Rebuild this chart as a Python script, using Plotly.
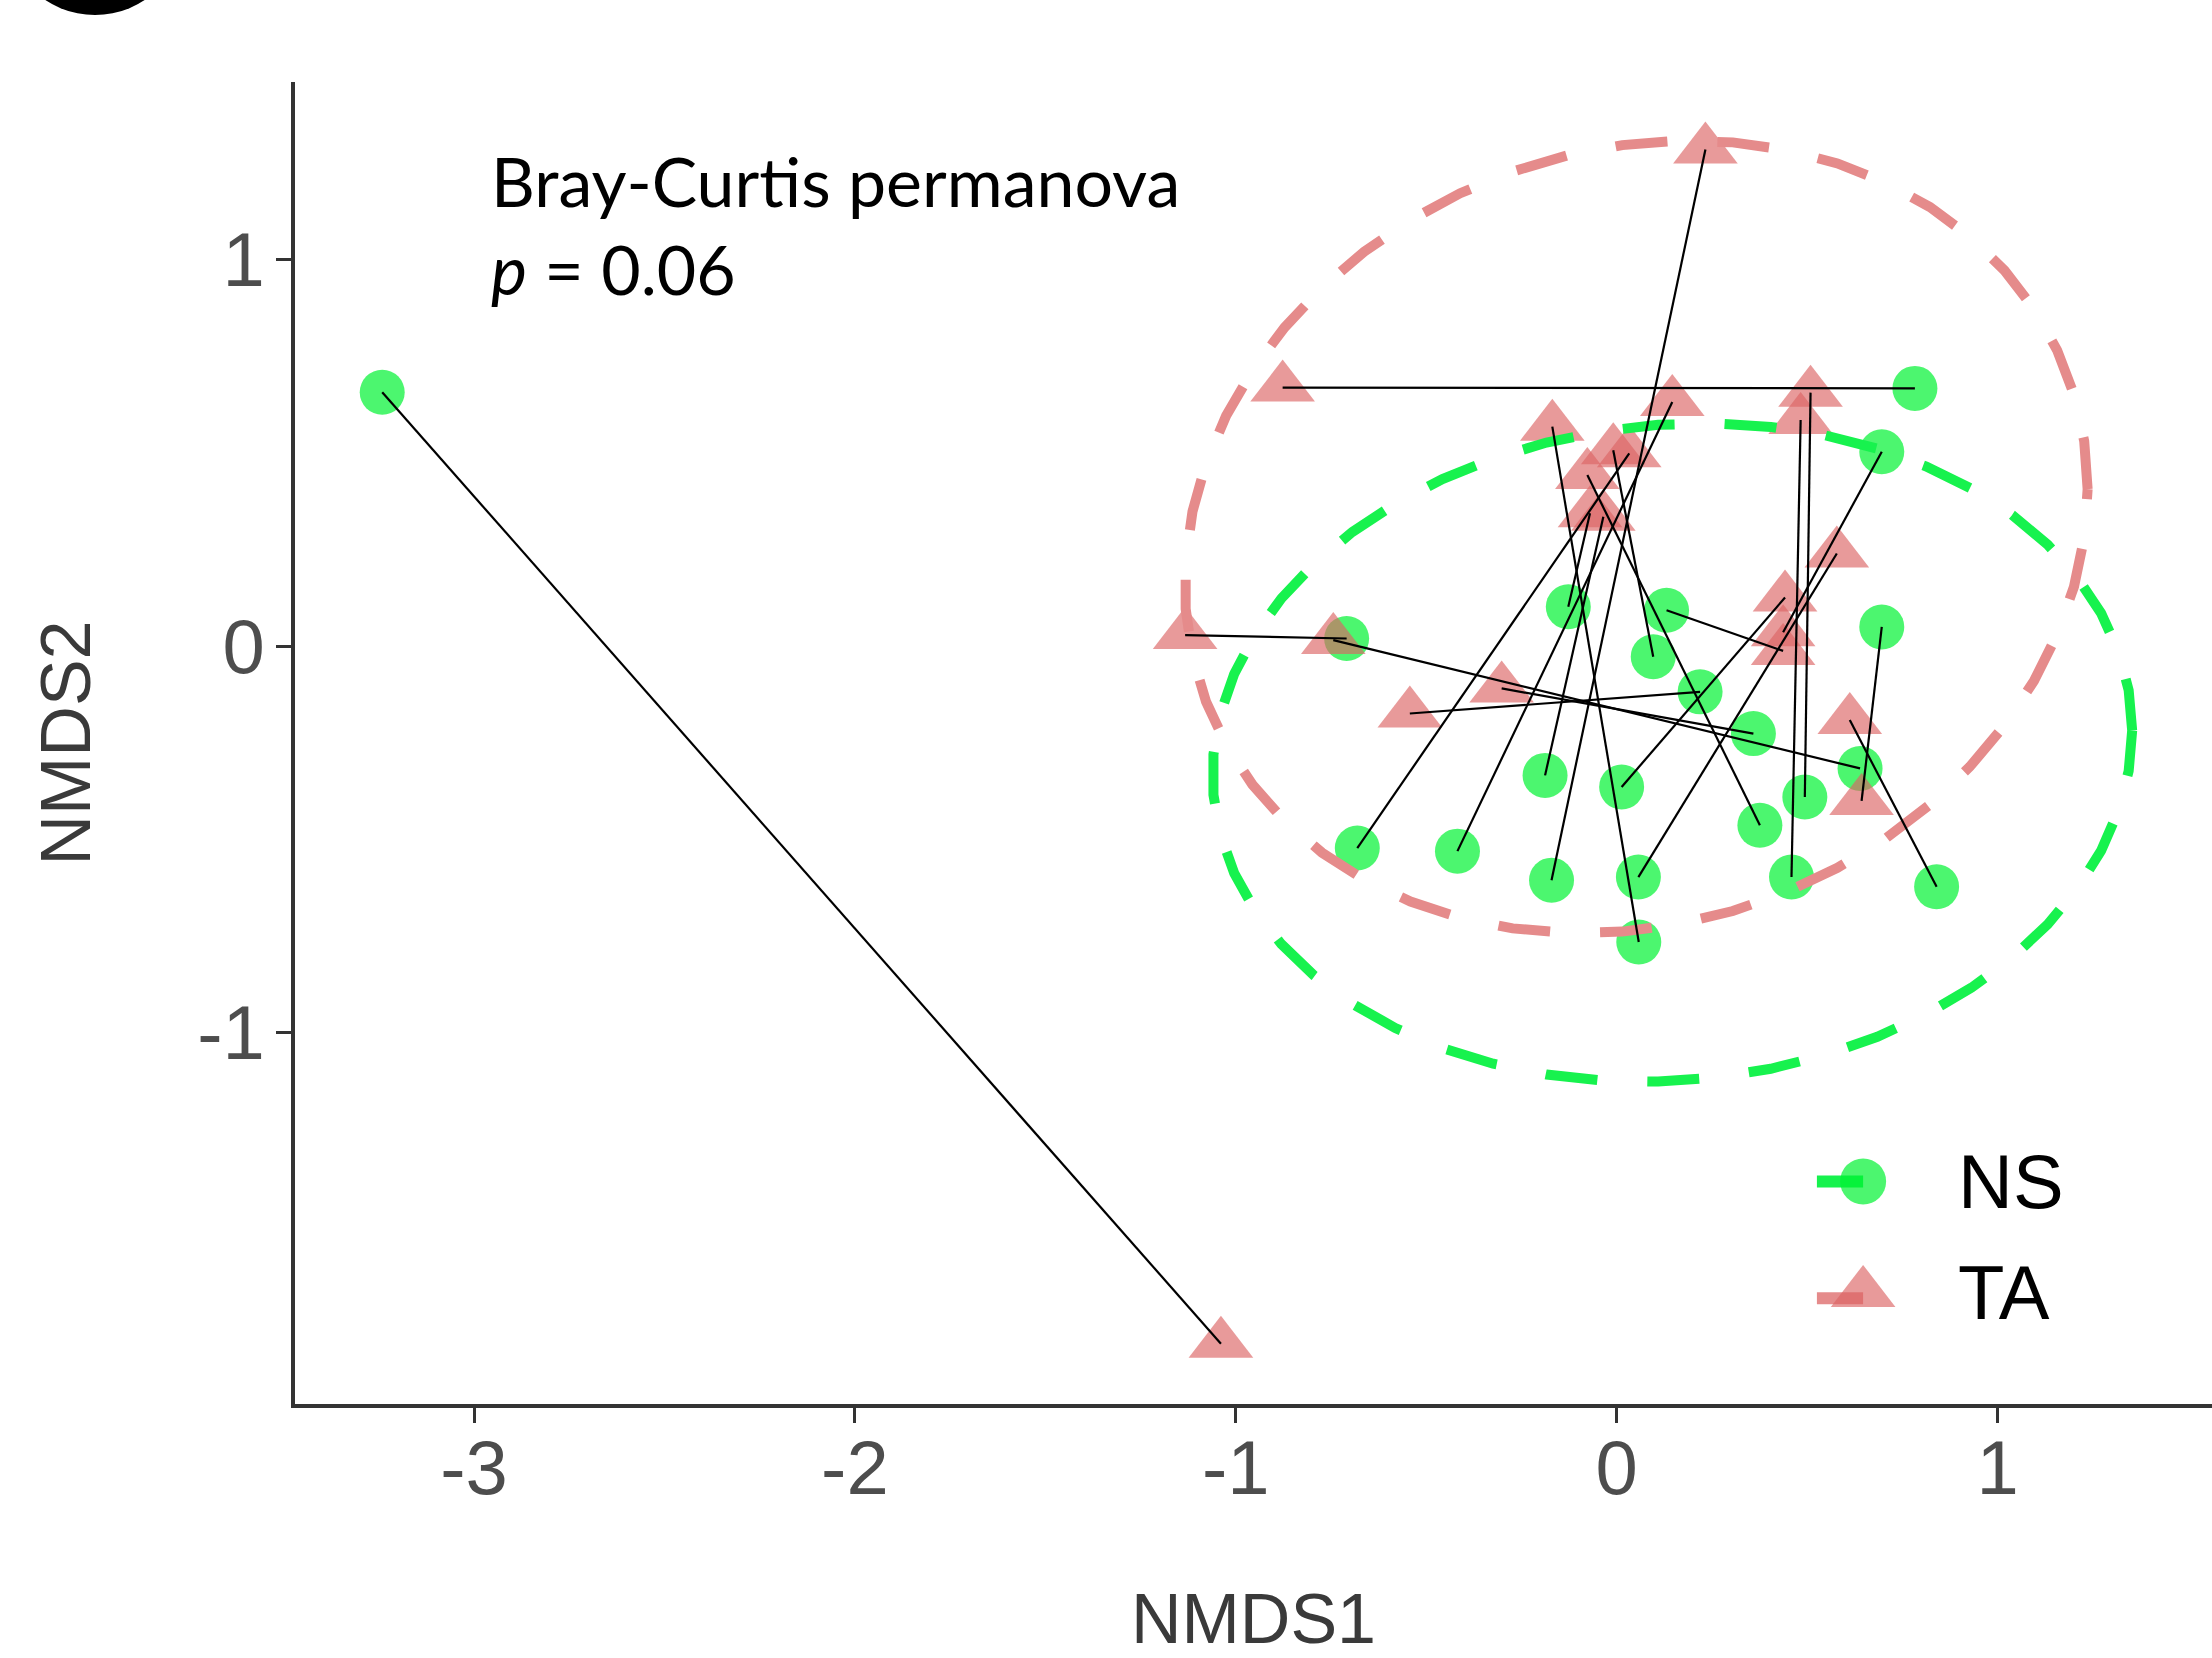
import numpy as np
import plotly.graph_objects as go

# ---------------- data ----------------
groups = ["NS", "TA"]

# NS samples (green circles); TA samples (pink triangles), paired by index
ns_x = [-3.241, -0.709, 0.783, 0.696, -0.127, 0.131, 0.696, 0.096, 0.219, 0.359, -0.188,
        0.013, 0.639, 0.494, 0.376, -0.681, -0.418, -0.171, 0.057, 0.459, 0.840, 0.058]
ns_y = [0.657, 0.020, 0.667, 0.503, 0.102, 0.093, 0.050, -0.027, -0.118, -0.226, -0.334,
        -0.364, -0.316, -0.390, -0.463, -0.522, -0.530, -0.605, -0.597, -0.597, -0.622, -0.765]
ta_x = [-1.039, -1.133, -0.877, 0.437, -0.070, 0.437, 0.643, -0.009, -0.543, -0.302, -0.035,
        0.442, -0.744, 0.509, -0.077, 0.033, 0.146, 0.233, 0.578, 0.483, 0.612, -0.169]
ta_y = [-1.804, 0.029, 0.669, 0.036, 0.344, -0.012, -0.400, 0.507, -0.174, -0.109, 0.335,
        0.126, 0.016, 0.656, 0.443, 0.499, 0.632, 1.285, 0.240, 0.585, -0.191, 0.568]

x_ticks = [-3, -2, -1, 0, 1]
x_ticklabels = ["-3", "-2", "-1", "0", "1"]
y_ticks = [-1, 0, 1]
y_ticklabels = ["-1", "0", "1"]

stat_text = "Bray-Curtis permanova<br><i>p</i> = 0.06"

# ---------------- styling ----------------
GREEN_PT = "rgba(0,242,50,0.70)"
PINK_PT = "rgba(220,100,100,0.65)"
GREEN_EL = "#17F24E"
PINK_EL = "#E58B8B"
AXIS_COL = "#333333"
TICK_COL = "#4D4D4D"


def stat_ellipse(x, y, level=0.95, segments=51, nu=5):
    """ggplot2 stat_ellipse(type='t'): robust multivariate-t covariance (MASS::cov.trob)."""
    X = np.column_stack([x, y]).astype(float)
    n, p = X.shape
    loc = X.mean(0)
    w = np.ones(n)
    Xc = X - loc
    for _ in range(25):
        w0 = w
        Xc = X - loc
        _, d, Vt = np.linalg.svd(np.sqrt(w / w.sum())[:, None] * Xc, full_matrices=False)
        wX = Xc @ Vt.T @ np.diag(1.0 / d)
        Q = (wX ** 2).sum(1)
        w = (nu + p) / (nu + Q)
        loc = (w[:, None] * X).sum(0) / w.sum()
        if np.all(np.abs(w - w0) < 0.01):
            break
    sw = np.sqrt(w)[:, None] * Xc
    cov = sw.T @ sw / n
    dfd = n - 1
    fq = (dfd / 2.0) * ((1 - level) ** (-2.0 / dfd) - 1)  # qf(level, 2, dfd)
    radius = np.sqrt(2 * fq)
    ang = np.arange(segments + 1) * 2 * np.pi / segments
    circ = np.column_stack([np.cos(ang), np.sin(ang)])
    R = np.linalg.cholesky(cov).T
    ell = loc + radius * circ @ R
    return ell[:, 0], ell[:, 1]


fig = go.Figure()

# points
fig.add_trace(go.Scatter(x=ns_x, y=ns_y, mode="markers", name=groups[0], showlegend=False,
                         marker=dict(symbol="circle", size=45, color=GREEN_PT, line=dict(width=0))))
fig.add_trace(go.Scatter(x=ta_x, y=ta_y, mode="markers", name=groups[1], showlegend=False,
                         marker=dict(symbol="triangle-up", size=56, color=PINK_PT, line=dict(width=0))))

# ellipses
ex, ey = stat_ellipse(ns_x, ns_y)
fig.add_trace(go.Scatter(x=ex, y=ey, mode="lines", showlegend=False, hoverinfo="skip",
                         line=dict(color=GREEN_EL, width=10, dash="52px,50px")))
ex, ey = stat_ellipse(ta_x, ta_y)
fig.add_trace(go.Scatter(x=ex, y=ey, mode="lines", showlegend=False, hoverinfo="skip",
                         line=dict(color=PINK_EL, width=10, dash="52px,50px")))

# paired segments
seg_x, seg_y = [], []
for a, b, c, d in zip(ns_x, ns_y, ta_x, ta_y):
    seg_x += [a, c, None]
    seg_y += [b, d, None]
fig.add_trace(go.Scatter(x=seg_x, y=seg_y, mode="lines", showlegend=False, hoverinfo="skip",
                         line=dict(color="black", width=2.2)))

# manual legend keys (overlay axes in 0..1 panel units)
key_x = [0.7939, 0.818]
key_y = [0.1684, 0.0840]
fig.add_trace(go.Scatter(x=key_x, y=[key_y[0]] * 2, xaxis="x2", yaxis="y2", mode="lines",
                         showlegend=False, hoverinfo="skip", line=dict(color=GREEN_EL, width=12)))
fig.add_trace(go.Scatter(x=[key_x[1]], y=[key_y[0]], xaxis="x2", yaxis="y2", mode="markers",
                         showlegend=False, hoverinfo="skip",
                         marker=dict(symbol="circle", size=46, color=GREEN_PT, line=dict(width=0))))
fig.add_trace(go.Scatter(x=key_x, y=[key_y[1] - 0.004] * 2, xaxis="x2", yaxis="y2", mode="lines",
                         showlegend=False, hoverinfo="skip", line=dict(color=PINK_EL, width=12)))
fig.add_trace(go.Scatter(x=[key_x[1]], y=[key_y[1]], xaxis="x2", yaxis="y2", mode="markers",
                         showlegend=False, hoverinfo="skip",
                         marker=dict(symbol="triangle-up", size=56, color=PINK_PT, line=dict(width=0))))

for g, ky in zip(groups, key_y):
    fig.add_annotation(x=0.8665, y=ky, xref="x2", yref="y2", text=g, showarrow=False,
                       xanchor="left", yanchor="middle",
                       font=dict(family="Liberation Sans, Arial, sans-serif", size=76, color="black"))

fig.add_annotation(x=-2.961, y=1.091, xref="x", yref="y", text=stat_text, showarrow=False,
                   xanchor="left", yanchor="middle", align="left",
                   font=dict(family="Lato, Open Sans, sans-serif", size=68, color="black"))

# cut-off panel badge at top-left
fig.add_shape(type="circle", xref="paper", yref="paper",
              x0=(5 - 295) / 1917, x1=(185 - 295) / 1917,
              y0=(1403.6 - 15) / 1321.6, y1=(1403.6 + 165) / 1321.6,
              fillcolor="black", line=dict(width=0))

fig.update_layout(
    width=2212, height=1658,
    margin=dict(l=295, r=0, t=82, b=254),
    paper_bgcolor="white", plot_bgcolor="white",
    showlegend=False,
    xaxis=dict(range=[-3.470, 1.563], tickvals=x_ticks, ticktext=x_ticklabels,
               showgrid=False, zeroline=False, showline=True, linecolor=AXIS_COL, linewidth=4,
               ticks="outside", ticklen=15, tickwidth=3, tickcolor=AXIS_COL,
               ticklabelstandoff=-20,
               tickfont=dict(family="Liberation Sans, Arial, sans-serif", size=76, color=TICK_COL),
               title=dict(text="NMDS1", standoff=110,
                          font=dict(family="Liberation Sans, Arial, sans-serif", size=70, color="#3A3A3A")),
               automargin=False),
    yaxis=dict(range=[-1.960, 1.4595], tickvals=y_ticks, ticktext=y_ticklabels,
               showgrid=False, zeroline=False, showline=True, linecolor=AXIS_COL, linewidth=4,
               ticks="outside", ticklen=15, tickwidth=3, tickcolor=AXIS_COL,
               ticklabelstandoff=-4,
               tickfont=dict(family="Liberation Sans, Arial, sans-serif", size=76, color=TICK_COL),
               title=dict(text="NMDS2", standoff=85,
                          font=dict(family="Liberation Sans, Arial, sans-serif", size=70, color="#3A3A3A")),
               automargin=False),
    xaxis2=dict(range=[0, 1], overlaying="x", visible=False, fixedrange=True),
    yaxis2=dict(range=[0, 1], overlaying="y", visible=False, fixedrange=True, anchor="x2"),
)

fig.write_html("out.html")
